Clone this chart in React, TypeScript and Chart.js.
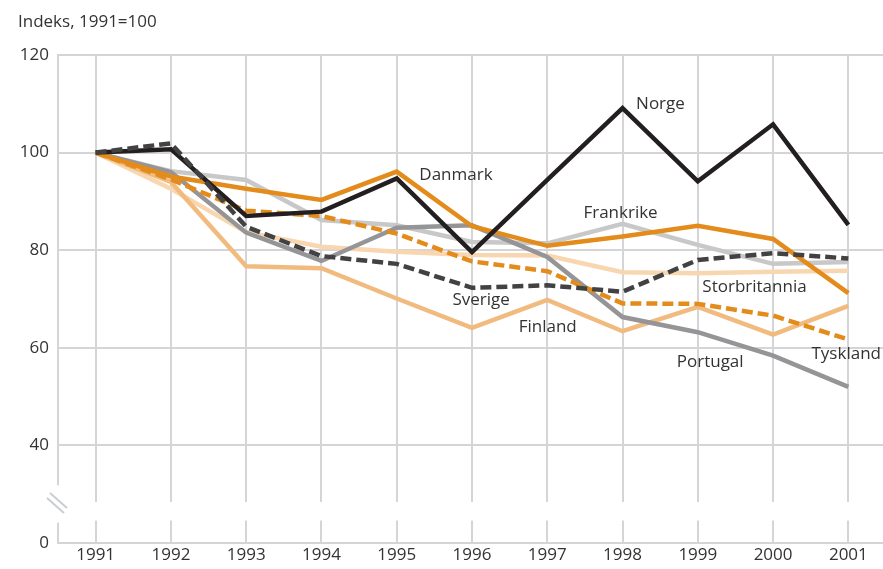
import React, { useEffect, useRef } from "react";
import { Chart, registerables } from "chart.js";

Chart.register(...registerables);

const years = ["1991", "1992", "1993", "1994", "1995", "1996", "1997", "1998", "1999", "2000", "2001"];
const yTicks = [20, 40, 60, 80, 100, 120];
const yTickLabels: Record<number, string> = { 20: "0", 40: "40", 60: "60", 80: "80", 100: "100", 120: "120" };

const norge = [100, 100.7, 87.0, 87.9, 94.7, 79.6, 94.4, 109.1, 94.1, 105.8, 85.2];
const danmark = [100, 95.1, 92.6, 90.3, 96.1, 84.9, 80.9, 82.8, 85.0, 82.3, 71.2];
const frankrike = [100, 96.2, 94.4, 86.2, 85.1, 81.7, 81.4, 85.4, 81.1, 77.2, 77.6];
const portugal = [100, 96.0, 83.6, 77.8, 84.6, 85.1, 78.6, 66.3, 63.2, 58.4, 52.0];
const sverige = [100, 101.9, 84.8, 78.8, 77.2, 72.3, 72.8, 71.5, 78.0, 79.4, 78.3];
const tyskland = [100, 94.5, 88.1, 87.0, 83.4, 77.7, 75.7, 69.1, 69.0, 66.6, 61.7];
const finland = [100, 94.0, 76.7, 76.3, 70.1, 64.1, 69.8, 63.4, 68.4, 62.7, 68.6];
const storbritannia = [100, 92.6, 83.7, 80.7, 79.7, 79.0, 78.9, 75.5, 75.3, 75.6, 75.8];

const title = "Indeks, 1991=100";

// series labels: [text, x index, y value]
const seriesLabels: [string, number, number][] = [
  ["Norge", 7.18, 110.0],
  ["Danmark", 4.3, 95.4],
  ["Frankrike", 6.48, 87.6],
  ["Sverige", 4.74, 69.8],
  ["Finland", 5.62, 64.3],
  ["Storbritannia", 8.06, 72.5],
  ["Portugal", 7.72, 57.1],
  ["Tyskland", 9.51, 58.7],
];

const FONT = "'Open Sans', 'Noto Sans', sans-serif";
const TEXT = "#333333";
const GRID = "#d5d5d7";

export default function App() {
  const ref = useRef<HTMLCanvasElement | null>(null);

  useEffect(() => {
    if (!ref.current) return;

    const decor = {
      id: "decor",
      beforeDatasetsDraw(chart: any) {
        const ctx = chart.ctx;
        const { left, right } = chart.chartArea;
        const y = chart.scales.y;
        ctx.save();
        ctx.fillStyle = "#ffffff";
        const g1 = y.getPixelForValue(28.4);
        const g2 = y.getPixelForValue(24.6);
        ctx.fillRect(left + 2, g1, right - left, g2 - g1);
        const a1 = y.getPixelForValue(31.8);
        const a2 = y.getPixelForValue(24.2);
        ctx.fillRect(left - 3, a1, 6, a2 - a1);
        ctx.strokeStyle = "#c9ced4";
        ctx.lineWidth = 2;
        const m = y.getPixelForValue(28.8);
        ctx.beginPath();
        ctx.moveTo(left - 8, m - 7);
        ctx.lineTo(left + 9, m + 8);
        ctx.moveTo(left - 11, m - 2);
        ctx.lineTo(left + 6, m + 13);
        ctx.stroke();
        ctx.restore();
      },
      afterDatasetsDraw(chart: any) {
        const ctx = chart.ctx;
        const x = chart.scales.x;
        const y = chart.scales.y;
        ctx.save();
        ctx.fillStyle = TEXT;
        ctx.font = `17px ${FONT}`;
        ctx.textAlign = "left";
        ctx.textBaseline = "middle";
        for (const [t, xi, yv] of seriesLabels) {
          ctx.fillText(t, x.getPixelForValue(xi), y.getPixelForValue(yv));
        }
        ctx.fillText(title, 18, 22);
        ctx.restore();
      },
    };

    const ds = (label: string, data: number[], color: string, dashed = false) => ({
      label,
      data,
      borderColor: color,
      backgroundColor: color,
      borderWidth: 4.5,
      borderDash: dashed ? [11, 5] : [],
      pointRadius: 0,
      tension: 0,
      fill: false,
      borderJoinStyle: "miter" as const,
      borderCapStyle: "butt" as const,
    });

    const chart = new Chart(ref.current, {
      type: "line",
      data: {
        labels: years,
        datasets: [
          ds("Sverige", sverige, "#424242", true),
          ds("Norge", norge, "#231f20"),
          ds("Danmark", danmark, "#e38b1b"),
          ds("Tyskland", tyskland, "#e38b1b", true),
          ds("Portugal", portugal, "#959598"),
          ds("Frankrike", frankrike, "#c8c8c8"),
          ds("Finland", finland, "#f1bb80"),
          ds("Storbritannia", storbritannia, "#f8d6b0"),
        ],
      },
      options: {
        responsive: false,
        animation: false,
        devicePixelRatio: 1,
        layout: { padding: { top: 55, right: 9, bottom: 0, left: 0 } },
        plugins: { legend: { display: false }, tooltip: { enabled: false }, title: { display: false } },
        scales: {
          x: {
            type: "category",
            offset: true,
            grid: { offset: false, color: GRID, lineWidth: 2, drawTicks: false },
            border: { display: true, color: GRID, width: 2 },
            ticks: { color: TEXT, font: { size: 17, family: FONT }, padding: 2, maxRotation: 0, autoSkip: false },
            afterFit: (s: any) => { s.height = 26; },
          },
          y: {
            type: "linear",
            min: 20,
            max: 120,
            afterBuildTicks: (s: any) => { s.ticks = yTicks.map((v) => ({ value: v })); },
            grid: { color: GRID, lineWidth: 2, drawTicks: false },
            border: { display: true, color: GRID, width: 2 },
            ticks: {
              color: TEXT,
              font: { size: 17, family: FONT },
              padding: 9,
              callback: (v: any) => yTickLabels[v as number] ?? "",
            },
            afterFit: (s: any) => { s.width = 58; },
          },
        },
      },
      plugins: [decor],
    });

    return () => chart.destroy();
  }, []);

  return (
    <div style={{ position: "absolute", left: 0, top: 0, width: 883, height: 569, overflow: "hidden", background: "#fff" }}>
      <canvas ref={ref} width={895} height={569} style={{ display: "block", width: 895, height: 569 }} />
    </div>
  );
}
